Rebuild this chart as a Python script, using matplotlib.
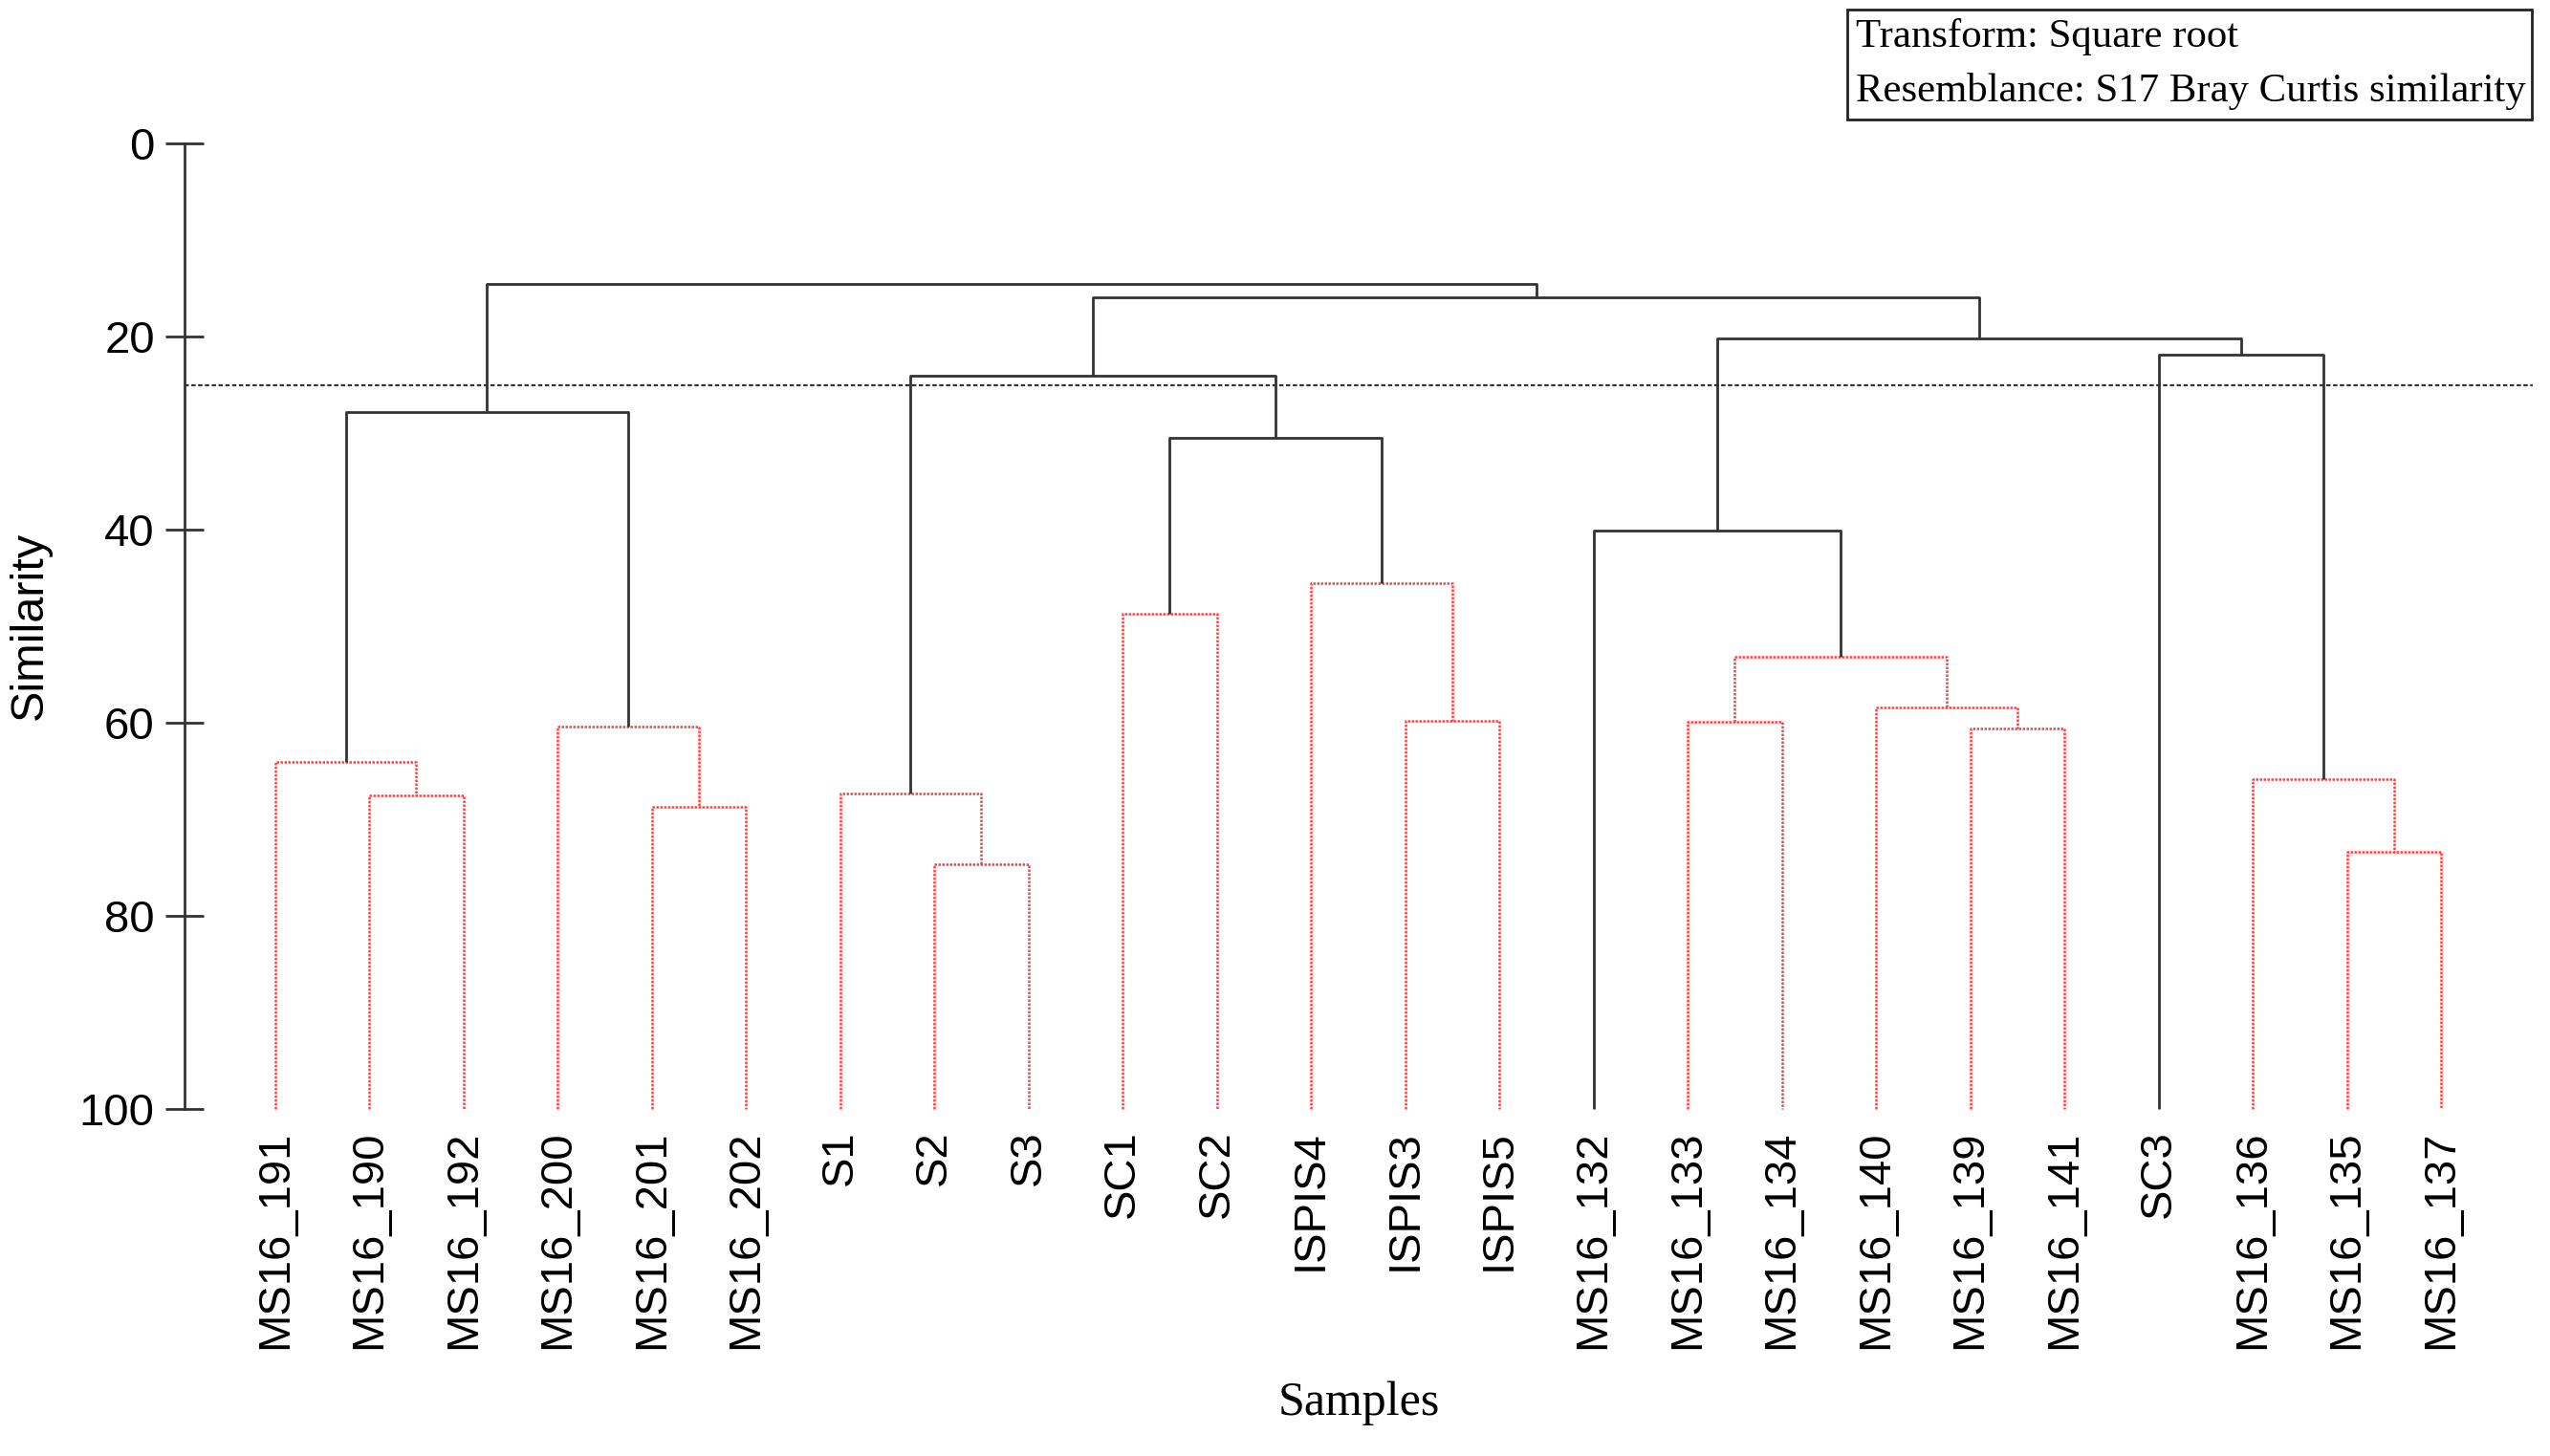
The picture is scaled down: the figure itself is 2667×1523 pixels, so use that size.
import matplotlib
matplotlib.use("Agg")
import matplotlib.pyplot as plt
from matplotlib.patches import Rectangle

# leaves in plotted order (left to right)
leaf_names = ["MS16_191", "MS16_190", "MS16_192", "MS16_200", "MS16_201", "MS16_202",
              "S1", "S2", "S3", "SC1", "SC2", "ISPIS4", "ISPIS3", "ISPIS5",
              "MS16_132", "MS16_133", "MS16_134", "MS16_140", "MS16_139", "MS16_141",
              "SC3", "MS16_136", "MS16_135", "MS16_137"]

# merges: node ids 0..23 are leaves, merge k creates node 24 + k
merge_left = [1, 0, 4, 3, 25, 7, 6, 9, 12, 11, 31, 30, 15, 18, 17, 36, 14, 22, 21, 20, 40, 35, 28]
merge_right = [2, 24, 5, 26, 27, 8, 29, 10, 13, 32, 33, 34, 16, 19, 37, 38, 39, 23, 41, 42, 43, 44, 45]
merge_sim = [67.5, 64.1, 68.7, 60.4, 27.8, 74.7, 67.3, 48.7, 59.8, 45.6, 30.5, 24.1,
             59.9, 60.6, 58.4, 53.2, 40.1, 73.4, 65.8, 21.9, 20.2, 16.0, 14.6]
# True = significant (solid black), False = not separated (red dotted)
merge_sig = [False, False, False, False, True, False, False, False, False, False, True, True,
             False, False, False, False, True, False, False, True, True, True, True]

cut_level = 25.1
y_ticks = [0, 20, 40, 60, 80, 100]


def create_plot():
    plt.rcParams['font.family'] = ['Liberation Sans', 'DejaVu Sans']
    fig = plt.figure(figsize=(26.67, 15.23), dpi=100)
    ax = fig.add_axes([0.0724, 0.2383, 0.9207, 0.6634])

    n = len(leaf_names)
    node_x = [i + 1 for i in range(n)]
    node_y = [100.0] * n

    for a, b, h, sig in zip(merge_left, merge_right, merge_sim, merge_sig):
        xa, xb = node_x[a], node_x[b]
        ya, yb = node_y[a], node_y[b]
        if sig:
            kw = dict(color='#333333', lw=2.0, ls='-')
        else:
            kw = dict(color='#ff4040', lw=1.8, ls=(0, (1, 0.6)))
        ax.plot([xa, xa, xb, xb], [ya, h, h, yb], clip_on=False, solid_capstyle='butt', **kw)
        node_x.append((xa + xb) / 2)
        node_y.append(h)

    # similarity cut line
    ax.plot([0.04, 24.97], [cut_level, cut_level], color='#333333', lw=1.6,
            ls=(0, (2, 1.2)), clip_on=False)

    ax.set_xlim(0.04, 24.97)
    ax.set_ylim(100, 0)
    for s in ['top', 'right', 'bottom']:
        ax.spines[s].set_visible(False)
    ax.spines['left'].set_color('#333333')
    ax.spines['left'].set_linewidth(2.0)

    ax.set_yticks(y_ticks)
    ax.tick_params(axis='y', direction='inout', length=29, width=2.0, color='#333333',
                   labelsize=34, pad=8)
    ax.set_xticks(range(1, n + 1))
    ax.set_xticklabels(leaf_names, rotation=90, fontsize=34)
    ax.tick_params(axis='x', length=0, pad=16)

    ax.set_ylabel('Similarity', fontsize=35)
    ax.yaxis.set_label_coords(-0.066, 0.5)
    ax.yaxis.label.set_va('center')

    ax.set_xlabel('Samples', fontsize=36, family='Liberation Serif')
    ax.xaxis.set_label_coords(0.5, -0.305)
    ax.xaxis.label.set_va('center')

    # transform / resemblance box
    fig.patches.append(Rectangle((0.7245, 0.918), 0.2685, 0.0754, transform=fig.transFigure,
                                 fill=False, edgecolor='#222222', lw=2.0))
    fig.text(0.7278, 0.975, 'Transform: Square root', fontsize=30.8,
             family='Liberation Serif', va='center', ha='left')
    fig.text(0.7278, 0.937, 'Resemblance: S17 Bray Curtis similarity', fontsize=30.8,
             family='Liberation Serif', va='center', ha='left')

    fig.savefig('out.png', dpi=100, facecolor='white')
    plt.close(fig)


if __name__ == "__main__":
    create_plot()
